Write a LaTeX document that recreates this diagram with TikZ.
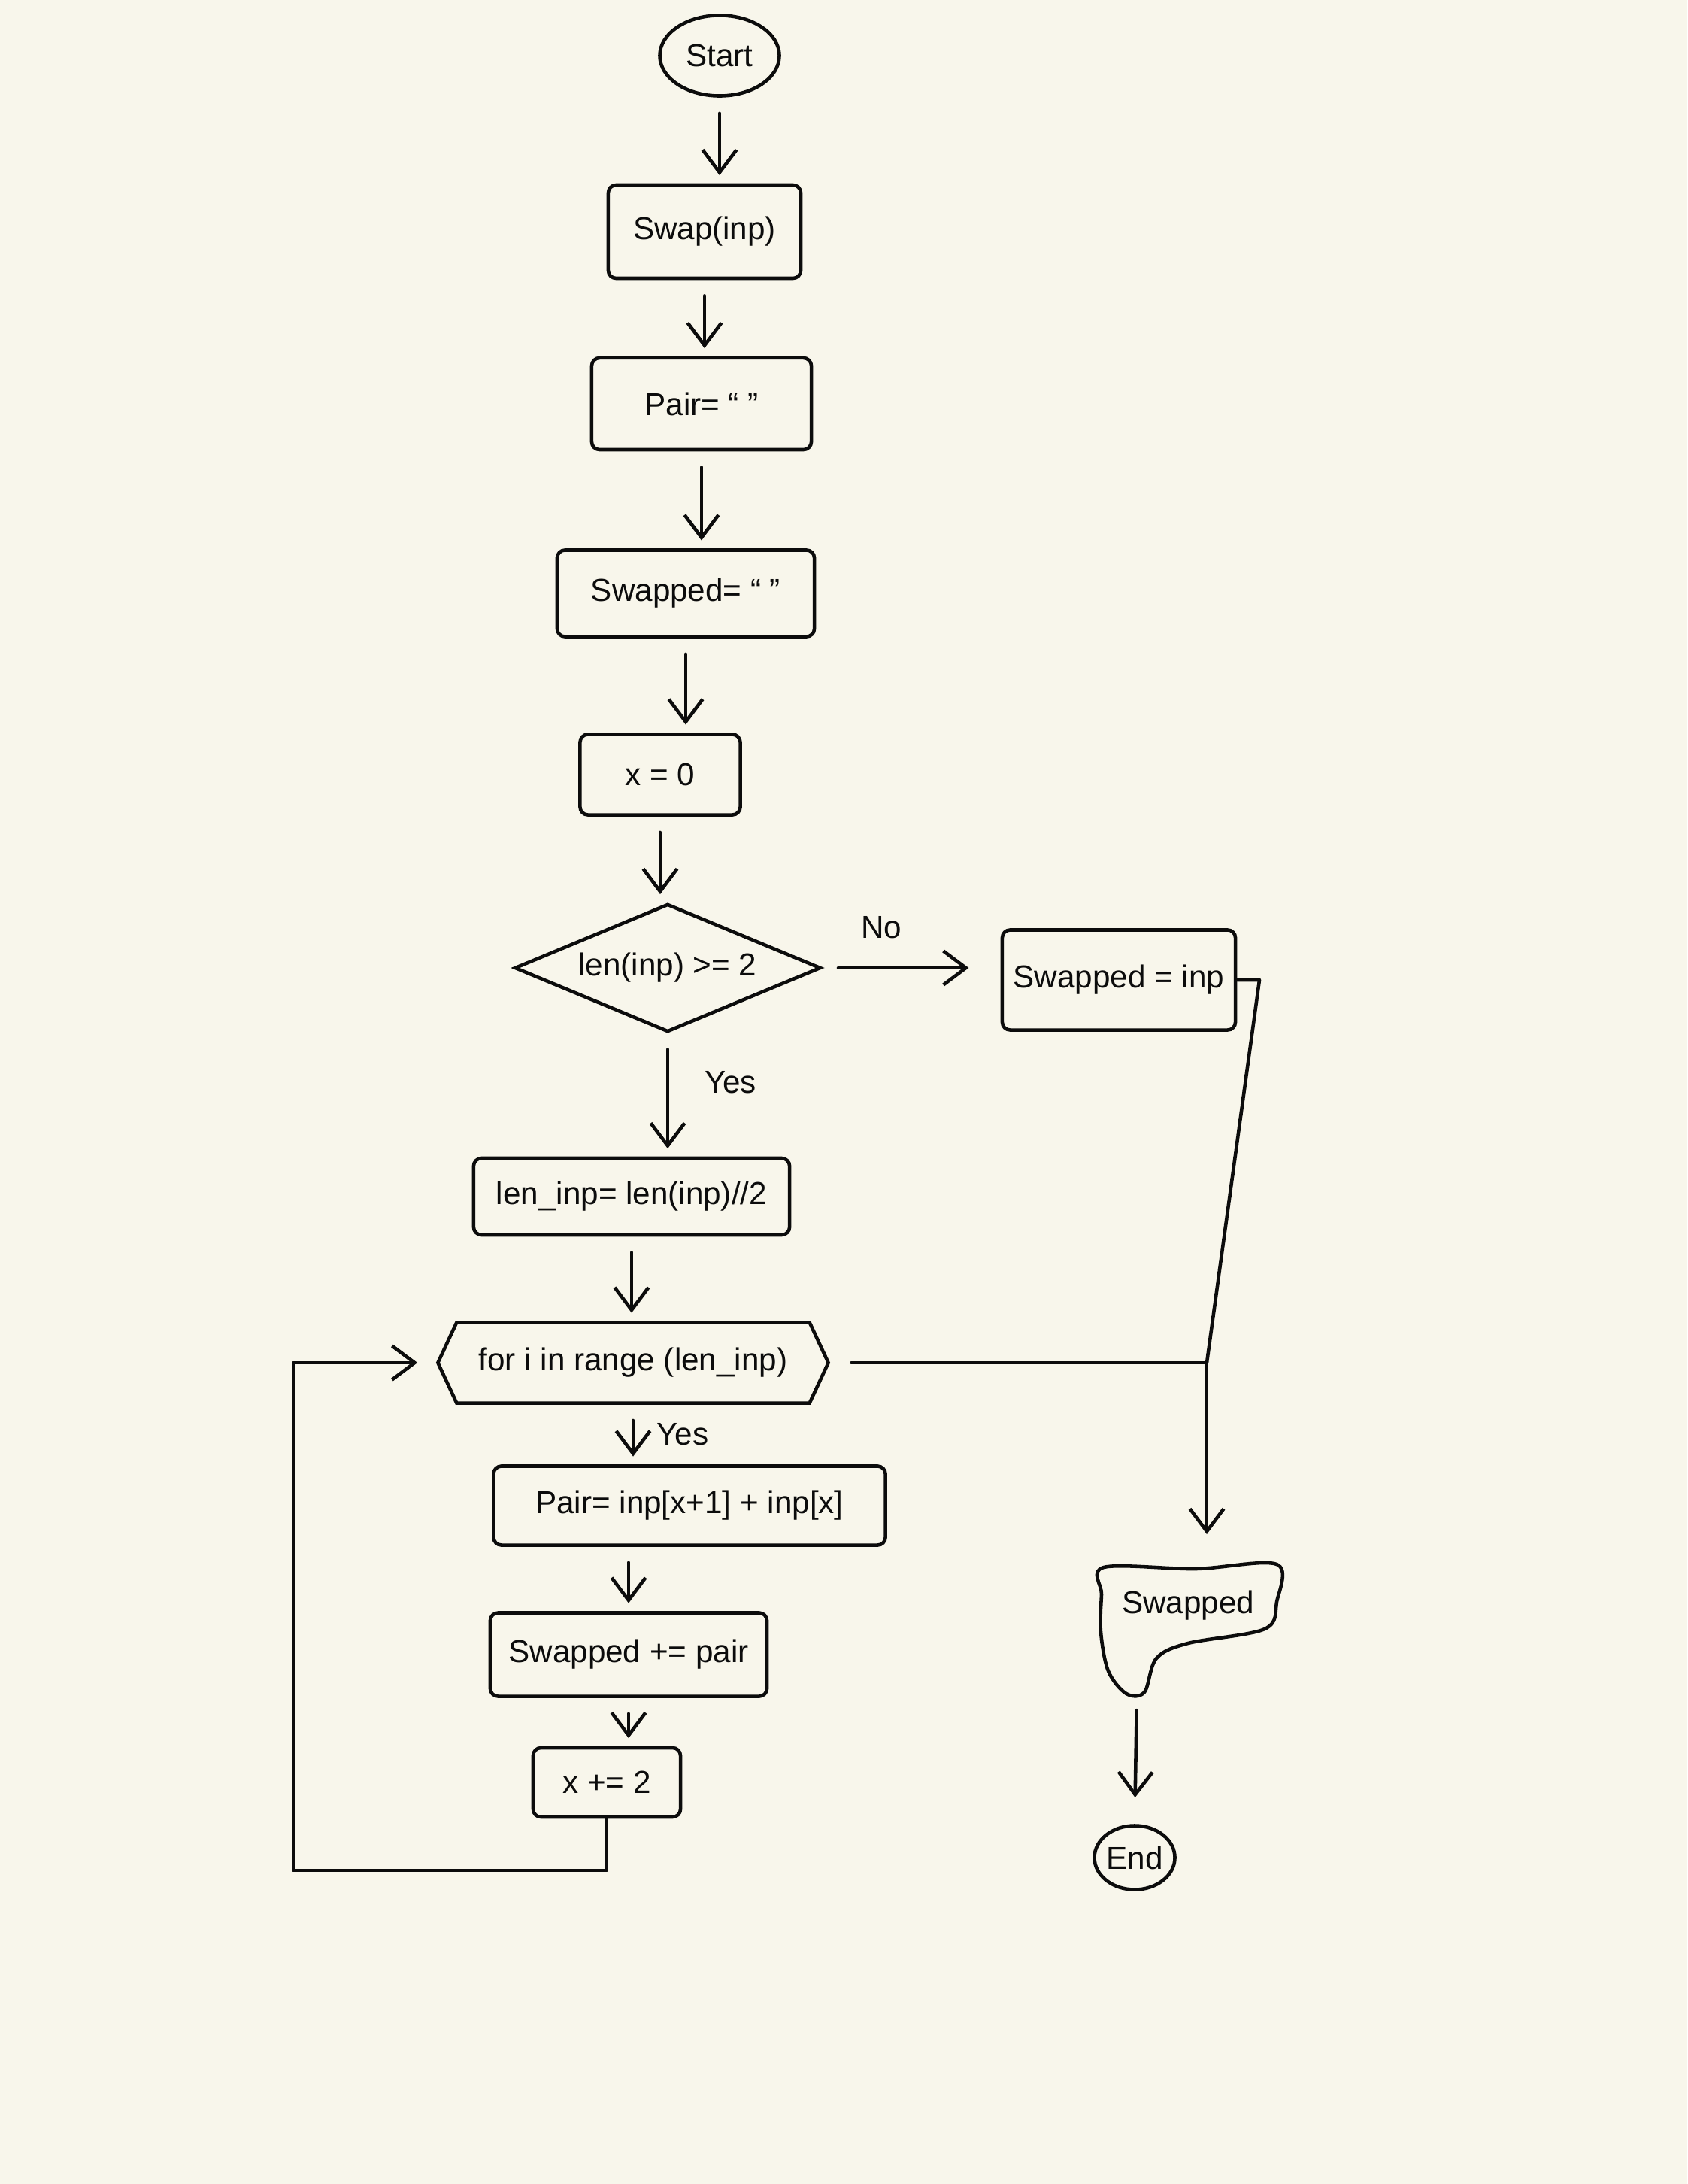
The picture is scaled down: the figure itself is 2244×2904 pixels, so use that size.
\documentclass[tikz,border=0pt]{standalone}
\usepackage{fontspec}
\setmainfont{Liberation Sans}
\usetikzlibrary{shapes.geometric,shapes.symbols,arrows.meta}
\definecolor{paper}{RGB}{248,246,235}
\definecolor{ink}{RGB}{12,12,12}
\begin{document}
\begin{tikzpicture}[x=0.01cm,y=-0.01cm,
  every node/.style={font=\fontsize{12}{14}\selectfont, text=ink},
  stroke/.style={draw=ink, line width=1.3pt},
  terminal/.style={stroke, ellipse, inner sep=0pt},
  process/.style={stroke, rectangle, rounded corners=3pt, inner sep=0pt},
  decision/.style={stroke, diamond, aspect=2.4, inner sep=0pt},
  loophead/.style={stroke, signal, signal to=west and east, signal pointer angle=130, inner sep=0pt},
  wire/.style={draw=ink, line width=1.3pt, line join=round, line cap=round},
  flow/.style={wire, -{Straight Barb[length=3mm,width=4.5mm]}, shorten <=6pt, shorten >=3pt}
]
% page
\fill[paper] (0,0) rectangle (2244,2904);
\useasboundingbox (0,0) rectangle (2244,2904);

% main column
\node[terminal, minimum width=1.59cm, minimum height=1.07cm] (start) at (957,74) {Start};
\node[process, minimum width=2.56cm, minimum height=1.24cm] (swap) at (937,308) {Swap(inp)};
\node[process, minimum width=2.92cm, minimum height=1.22cm] (pairinit) at (933,537) {Pair= “ ”};
\node[process, minimum width=3.42cm, minimum height=1.15cm] (swpinit) at (912,789) {Swapped= “ ”};
\node[process, minimum width=2.13cm, minimum height=1.07cm] (xinit) at (878,1030) {x = 0};
\node[decision, minimum width=4.07cm, minimum height=1.70cm] (cond) at (888,1287) {len(inp) >= 2};
\node[process, minimum width=3.10cm, minimum height=1.33cm] (swpinp) at (1488,1303) {Swapped = inp};
\node[process, minimum width=4.20cm, minimum height=1.02cm] (half) at (840,1591) {len\_inp= len(inp)//2};
\node[loophead, minimum width=5.19cm, minimum height=1.07cm] (loop) at (842,1812) {for i in range (len\_inp)};
\node[process, minimum width=5.21cm, minimum height=1.05cm] (pairstep) at (917,2002) {Pair= inp[x+1] + inp[x]};
\node[process, minimum width=3.68cm, minimum height=1.11cm] (append) at (836,2200) {Swapped += pair};
\node[process, minimum width=1.96cm, minimum height=0.92cm] (xstep) at (807,2370) {x += 2};

% output and end
\node[minimum width=2.30cm, minimum height=1.04cm, inner sep=0pt] (result) at (1580,2135) {Swapped};
\draw[wire] plot[smooth cycle, tension=0.55] coordinates {(1468,2084) (1590,2086) (1698,2080) (1698,2130) (1682,2166) (1580,2185) (1538,2205) (1522,2250) (1498,2252) (1474,2222) (1464,2170) (1465,2120)};
\coordinate (resultfoot) at (1512,2253);
\node[terminal, minimum width=1.07cm, minimum height=0.85cm] (finish) at (1509,2470) {End};

% straight flow
\draw[flow] (start.south) -- (start.south |- swap.north);
\draw[flow] (swap.south) -- (swap.south |- pairinit.north);
\draw[flow] (pairinit.south) -- (pairinit.south |- swpinit.north);
\draw[flow] (swpinit.south) -- (swpinit.south |- xinit.north);
\draw[flow] (xinit.south) -- (xinit.south |- cond.north);
\draw[flow] (cond.south) -- (cond.south |- half.north) node[pos=0.4, right=10pt] {Yes};
\draw[flow, shorten >=12pt] (cond.east) -- (cond.east -| swpinp.west) node[pos=0.33, above=7pt] {No};
\draw[flow] (half.south) -- (half.south |- loop.north);
\draw[flow] (loop.south) -- (loop.south |- pairstep.north) node[pos=0.5, right=5pt] {Yes};
\draw[flow] (append.north |- pairstep.south) -- (append.north);
\draw[flow] (append.south) -- (append.south |- xstep.north);

% loop back
\coordinate (back) at (390,2487);
\draw[flow, shorten <=0pt, shorten >=7pt] (xstep.south) |- (back) |- (loop.west);

% exits to the output
\coordinate (turn) at (1675,1303);
\coordinate (join) at (1605,1812);
\draw[wire] (swpinp.east) -- (turn) -- (join);
\draw[wire, shorten <=8pt] (loop.east) -- (join);
\draw[flow, shorten <=0pt, shorten >=12pt] (join) -- (join |- result.north);
\draw[flow, shorten >=10pt] (resultfoot) -- (finish.north);
\end{tikzpicture}
\end{document}
